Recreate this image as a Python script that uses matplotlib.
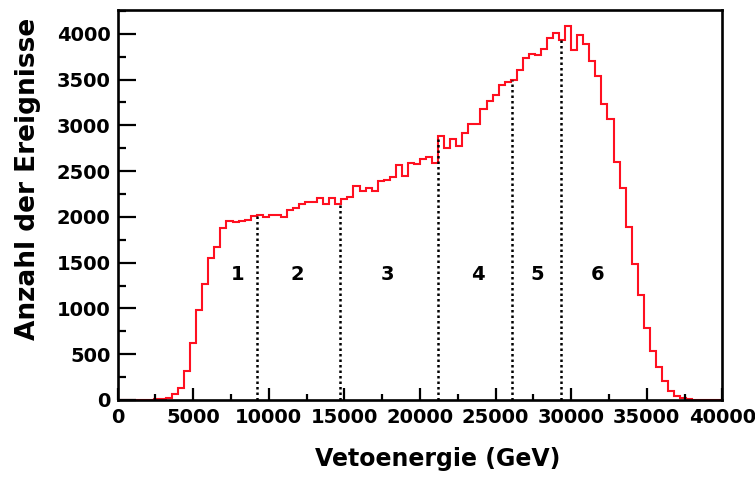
import numpy as np
import matplotlib
matplotlib.use("Agg")
import matplotlib.pyplot as plt
from matplotlib.ticker import MultipleLocator

# ---- data ----
x_min, x_max, n_bins = 0, 40000, 100
counts = [
    0, 0, 0, 0, 0, 0, 8, 10, 25, 60,
    134, 320, 626, 982, 1266, 1554, 1674, 1881, 1958, 1940,
    1958, 1965, 2009, 2016, 2000, 2018, 2020, 2000, 2080, 2093,
    2145, 2160, 2160, 2212, 2137, 2212, 2137, 2194, 2220, 2340,
    2288, 2318, 2278, 2391, 2398, 2434, 2565, 2449, 2591, 2580,
    2635, 2657, 2594, 2880, 2758, 2849, 2776, 2915, 3017, 3020,
    3180, 3268, 3330, 3446, 3475, 3500, 3603, 3741, 3777, 3765,
    3839, 3958, 4013, 3935, 4083, 3820, 3983, 3892, 3705, 3537,
    3237, 3067, 2600, 2311, 1892, 1481, 1146, 783, 539, 364,
    211, 98, 47, 18, 8, 4, 2, 1, 0, 0,
]
divider_x = [9250, 14700, 21200, 26100, 29350]
region_labels = ["1", "2", "3", "4", "5", "6"]
region_label_x = [7960, 11870, 17820, 23840, 27740, 31770]
region_label_y = 1375
x_label = "Vetoenergie (GeV)"
y_label = "Anzahl der Ereignisse"
y_top = 4260

edges = np.linspace(x_min, x_max, n_bins + 1)
counts = np.array(counts, dtype=float)
bin_w = (x_max - x_min) / n_bins

plt.rcParams["font.family"] = ["DejaVu Sans"]
plt.rcParams["font.weight"] = "bold"

fig = plt.figure(figsize=(7.55, 4.78), dpi=100)
ax = fig.add_axes([0.1558, 0.1632, 0.801, 0.8158])

ax.stairs(counts, edges, color="#ff1020", lw=1.5, zorder=1)

for xd in divider_x:
    h = counts[int((xd - x_min) // bin_w)]
    ax.vlines(xd, 0, h, colors="black", lw=1.8, linestyles=(0, (1.0, 1.2)))

for lab, xl in zip(region_labels, region_label_x):
    ax.text(xl, region_label_y, lab, ha="center", va="center",
            fontsize=14, fontweight="bold")

ax.set_xlim(x_min, x_max)
ax.set_ylim(0, y_top)
ax.xaxis.set_major_locator(MultipleLocator(5000))
ax.xaxis.set_minor_locator(MultipleLocator(2500))
ax.yaxis.set_major_locator(MultipleLocator(500))
ax.yaxis.set_minor_locator(MultipleLocator(250))

ax.tick_params(axis="both", which="both", direction="in", top=False, right=False,
               width=1.6, labelsize=14)
ax.tick_params(axis="y", which="major", length=13, pad=5)
ax.tick_params(axis="y", which="minor", length=6)
ax.tick_params(axis="x", which="major", length=9, pad=6)
ax.tick_params(axis="x", which="minor", length=4)
for lbl in ax.get_xticklabels() + ax.get_yticklabels():
    lbl.set_fontweight("bold")

for sp in ax.spines.values():
    sp.set_linewidth(1.9)
    sp.set_zorder(3)

ax.set_xlabel(x_label, fontsize=17, fontweight="bold")
ax.xaxis.set_label_coords(0.53, -0.12)
ax.set_ylabel(y_label, fontsize=19, fontweight="bold", loc="top")
ax.yaxis.set_label_coords(-0.127, 0.979)

fig.savefig("out.png", dpi=100)
